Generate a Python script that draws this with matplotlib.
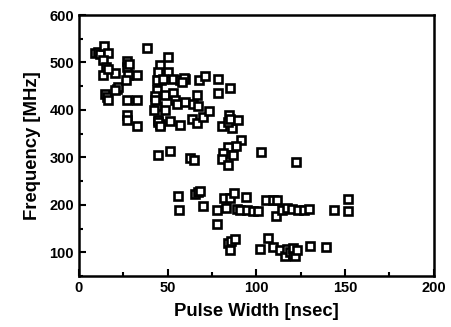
import numpy as np
import matplotlib
matplotlib.use("Agg")
import matplotlib.pyplot as plt
from matplotlib.ticker import MultipleLocator

# pulse width [nsec]
width = [9.0, 10.5, 12.0, 14.1, 16.5, 13.7, 15.2, 13.7, 20.3, 16.2,
         14.6, 15.6, 16.5, 21.2, 22.0, 20.5,
         26.9, 26.9, 27.8, 26.5, 28.0, 32.9, 27.2, 32.5, 27.2, 26.9, 32.5, 38.1,
         45.6, 44.5, 46.0, 44.0, 50.0, 50.3, 47.5, 53.0, 56.8, 59.6,
         44.0, 43.0, 44.0, 42.5, 43.0, 48.5, 53.1, 54.0, 55.0, 48.5,
         44.6, 45.5, 44.6, 45.5, 51.3, 56.9, 59.3, 58.3, 59.7, 64.4, 66.3, 67.2,
         67.8, 71.0, 63.5, 66.3, 70.1, 73.4, 78.4, 78.4, 85.1, 84.7, 80.9,
         86.1, 84.1, 85.1, 89.8, 91.6, 88.5, 84.1, 81.3, 80.6, 86.6, 83.8,
         44.7, 51.3, 62.5, 64.8, 102.5, 122.3,
         55.6, 56.5, 65.4, 67.2, 68.2, 70.0, 77.6, 77.6, 81.7, 82.8, 85.1, 87.3,
         88.8, 94.1, 90.8, 94.5, 98.2, 101.0, 105.2, 109.5, 111.7, 111.0,
         114.2, 117.0, 119.8, 123.6, 126.8, 129.6, 143.8, 151.7, 151.7,
         84.1, 85.5, 87.9, 85.0, 102.3, 106.3, 109.5, 113.3, 116.1,
         117.4, 118.9, 120.4, 121.7, 120.8, 122.7, 130.1, 139.2]

# frequency [MHz]
freq = [520, 522, 518, 535, 519, 506, 491, 473, 477, 487,
        433, 427, 420, 445, 449, 441,
        504, 491, 473, 463, 497, 473, 420, 420, 389, 378, 366, 530,
        494, 480, 463, 463, 512, 480, 466, 466, 463, 466,
        442, 430, 409, 400, 420, 431, 435, 420, 413, 399,
        378, 371, 375, 367, 377, 369, 468, 459, 417, 413, 431, 409,
        463, 471, 380, 373, 385, 397, 466, 435, 447, 389, 366,
        362, 375, 380, 378, 337, 323, 322, 309, 297, 306, 283,
        304, 313, 299, 294, 311, 291,
        218, 190, 223, 227, 230, 197, 190, 159, 215, 194, 215, 225,
        192, 216, 189, 189, 188, 187, 211, 211, 211, 176,
        189, 194, 191, 189, 189, 191, 190, 213, 187,
        119, 123, 127, 105, 107, 130, 111, 105, 93,
        107, 100, 95, 92, 109, 104, 114, 112]

fig = plt.figure(figsize=(4.51, 3.27), dpi=100)
ax = fig.add_axes([0.175, 0.156, 0.787, 0.798])

ax.plot(width, freq, linestyle="none", marker="s", markersize=5.5,
        markerfacecolor="white", markeredgecolor="black", markeredgewidth=1.9)

ax.set_xlim(0, 200)
ax.set_ylim(50, 600)
ax.xaxis.set_major_locator(MultipleLocator(50))
ax.xaxis.set_minor_locator(MultipleLocator(25))
ax.yaxis.set_major_locator(MultipleLocator(100))
ax.yaxis.set_minor_locator(MultipleLocator(50))
ax.tick_params(which="both", direction="in", width=1.5)
ax.tick_params(which="major", length=5, labelsize=10.5)
ax.tick_params(which="minor", length=3)
for s in ax.spines.values():
    s.set_linewidth(1.8)
for lbl in ax.get_xticklabels() + ax.get_yticklabels():
    lbl.set_fontfamily("Liberation Sans")
    lbl.set_fontweight("bold")

ax.set_xlabel("Pulse Width [nsec]", fontsize=13.3, fontweight="bold",
              family="Liberation Sans", labelpad=6)
ax.set_ylabel("Frequency [MHz]", fontsize=13.3, fontweight="bold",
              family="Liberation Sans", labelpad=6)

fig.savefig("out.png", dpi=100)
